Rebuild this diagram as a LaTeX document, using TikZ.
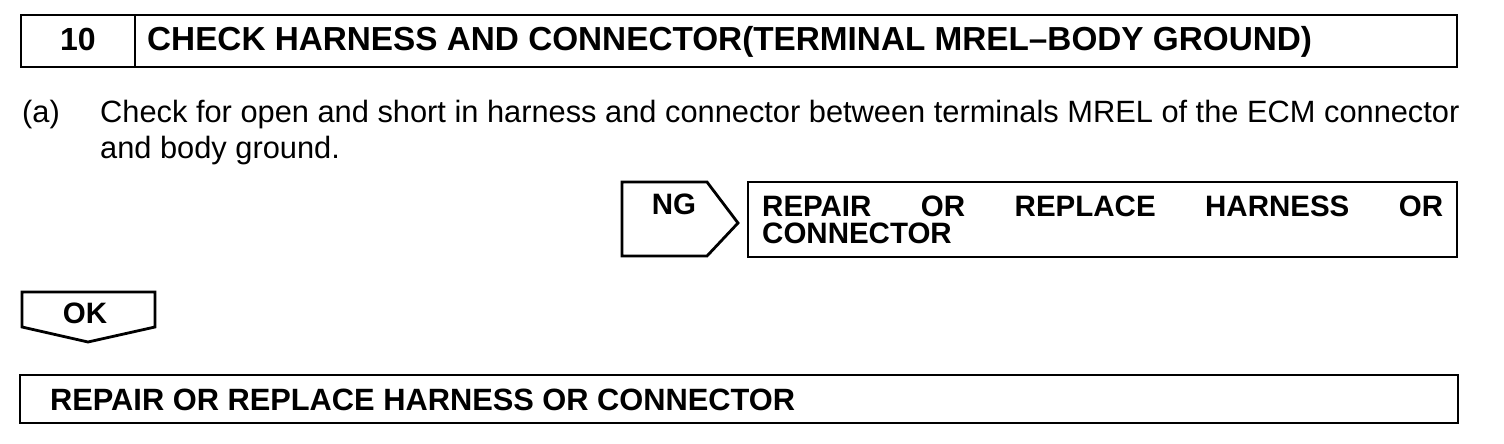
\documentclass[tikz,border=0pt]{standalone}
\usepackage{fontspec}
\setmainfont{Liberation Sans}
\begin{document}
\begin{tikzpicture}[x=1pt,y=-1pt,
  frame/.style={draw=black,line width=2.8pt,line join=miter},
  lbl/.style={inner sep=0pt,anchor=base west,font=\fontsize{29.5}{34}\selectfont\bfseries},
  body/.style={inner sep=0pt,anchor=base west,font=\fontsize{30.8}{35}\selectfont}]
\useasboundingbox (0,0) rectangle (1504,444);
% title box
\draw[frame] (21,15) rectangle (1457,67);
\draw[frame] (135,15) -- (135,67);
\node[lbl,anchor=base,font=\fontsize{32}{36}\selectfont\bfseries] (num) at (78,51) {10};
\node[lbl,font=\fontsize{33.3}{36}\selectfont\bfseries] (title) at (147,51) {CHECK HARNESS AND CONNECTOR(TERMINAL MREL\textendash BODY GROUND)};
% body text
\node[body] (a) at (22,122) {(a)};
\node[body] (l1) at (100,122) {Check for open and short in harness and connector between terminals MREL of the ECM connector};
\node[body] (l2) at (100,158) {and body ground.};
% NG arrow
\draw[frame] (622,182) -- (707,182) -- (738,223) -- (707,256) -- (622,256) -- cycle;
\node[lbl,anchor=base] (ng) at (674,214) {NG};
% NG box
\draw[frame] (748,182) rectangle (1457,257);
\node[lbl] (r1) at (762,216) {\makebox[681pt][s]{REPAIR OR REPLACE HARNESS OR}};
\node[lbl] (r2) at (762,243) {CONNECTOR};
% OK arrow
\draw[frame] (22,292) -- (155,292) -- (155,327) -- (88,342) -- (22,327) -- cycle;
\node[lbl,anchor=base] (ok) at (85,323) {OK};
% bottom box
\draw[frame] (20,375) rectangle (1458,423);
\node[lbl,font=\fontsize{30.8}{34}\selectfont\bfseries] (fin) at (50,410) {REPAIR OR REPLACE HARNESS OR CONNECTOR};
\end{tikzpicture}
\end{document}
